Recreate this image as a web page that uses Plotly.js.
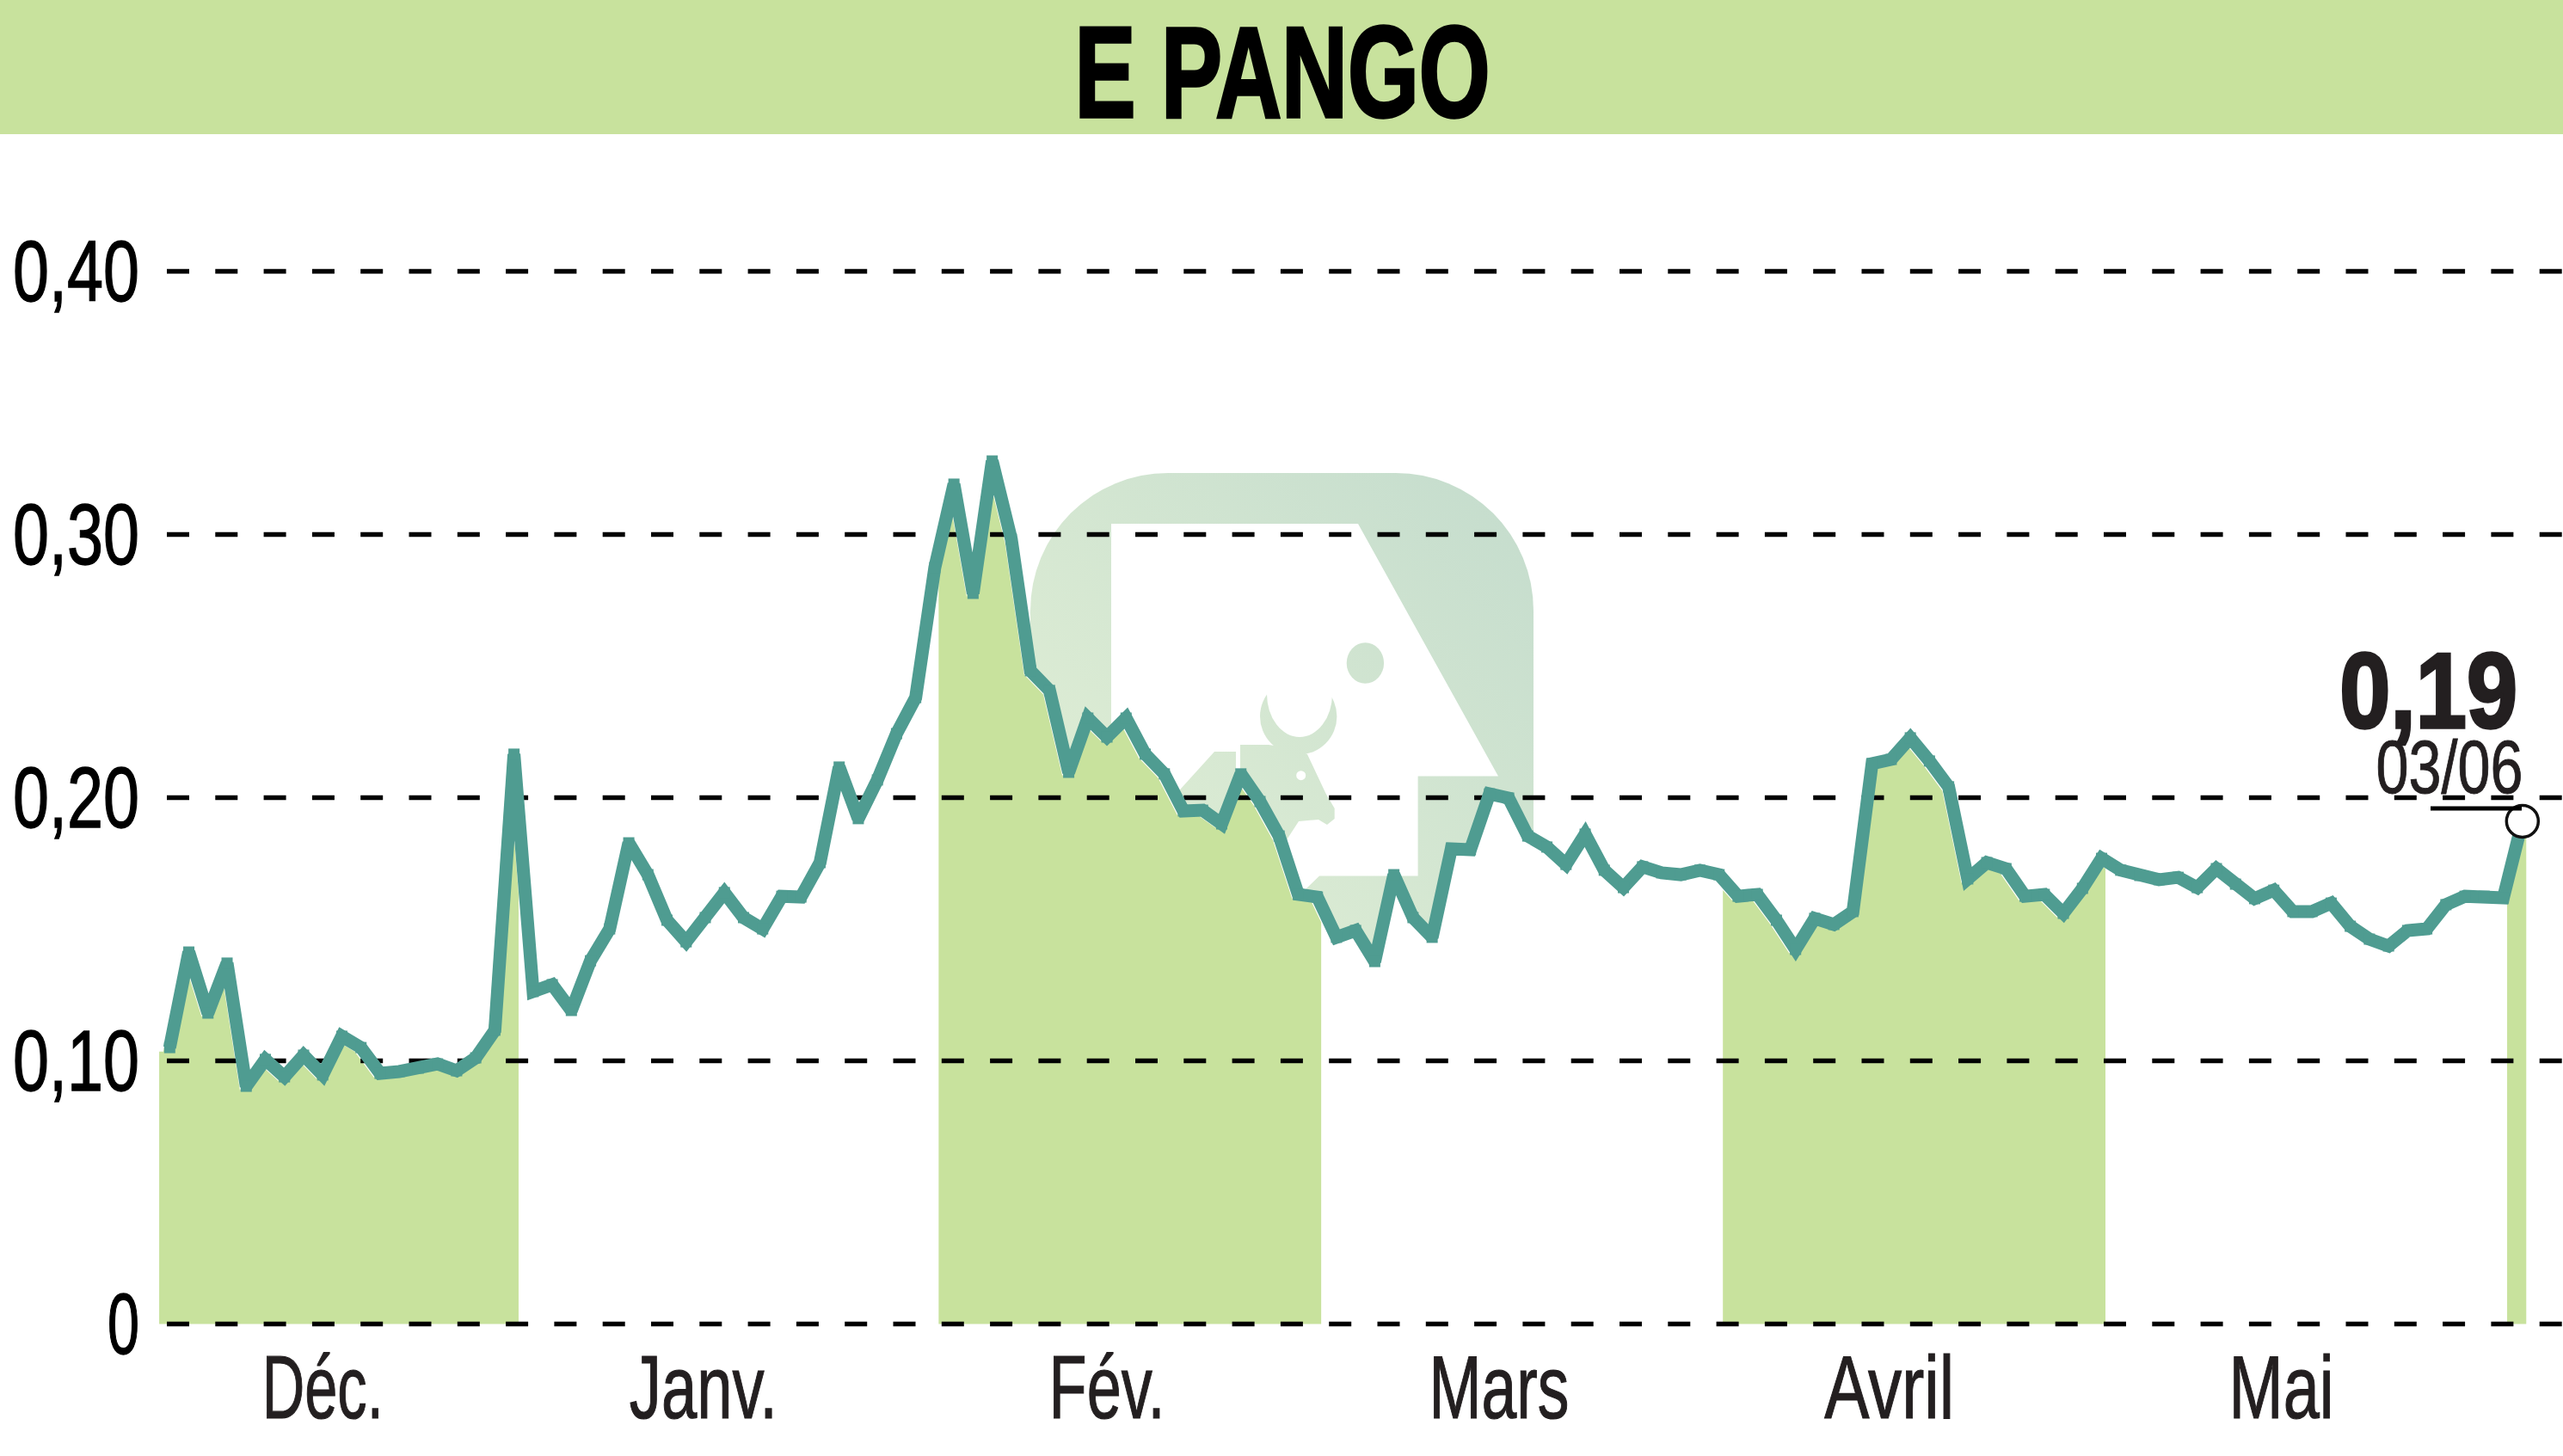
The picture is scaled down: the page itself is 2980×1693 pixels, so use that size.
<!DOCTYPE html>
<html><head><meta charset="utf-8">
<script src="https://cdn.plot.ly/plotly-3.0.1.min.js"></script>
<style>html,body{margin:0;padding:0;background:#fff;overflow:hidden}</style>
</head><body><div id="chart" style="width:2980px;height:1693px"></div>
<script>
const chartTitle = "E PANGO";
const monthLabels = ["Déc.","Janv.","Fév.","Mars","Avril","Mai"];
const monthCentres = [8,27.9,49,69.5,89.9,110.4];
const yTickValues = [0,0.1,0.2,0.3,0.4];
const yTickLabels = ["0","0,10","0,20","0,30","0,40"];
const lastValueLabel = "0,19";
const lastDateLabel = "03/06";
const prices = [
.1050,.1413,.1181,.1371,.0903,.1005,.0939,.1021,.0946,.1093,
.1050,.0952,.0959,.0972,.0988,.0962,.1011,.1116,.2165,.1263,
.1289,.1191,.1380,.1501,.1828,.1707,.1534,.1452,.1544,.1639,
.1544,.1501,.1625,.1622,.1753,.2116,.1920,.2067,.2243,.2380,
.2874,.3191,.2776,.3279,.2982,.2482,.2407,.2096,.2302,.2230,
.2302,.2165,.2090,.1949,.1952,.1900,.2090,.1985,.1854,.1632,
.1622,.1469,.1495,.1377,.1707,.1544,.1469,.1805,.1802,.2014,
.1998,.1854,.1812,.1746,.1861,.1724,.1658,.1737,.1714,.1707,
.1724,.1707,.1625,.1632,.1534,.1423,.1541,.1518,.1567,.2129,
.2145,.2227,.2139,.2041,.1691,.1753,.1730,.1625,.1632,.1560,
.1655,.1769,.1724,.1704,.1688,.1697,.1658,.1730,.1671,.1616,
.1648,.1567,.1567,.1599,.1511,.1462,.1436,.1495,.1501,.1593,
.1625,.1625,.1619,.1910];
const monthBands = [[-0.55,18.24],[40.2,60.2],[81.2,101.2],[122.2,123.2]];

const W=2980,H=1693, L=180,R=2980,T=156,B=1545;
const X0=197.3, STEP=22.24, Y0=1539.4, UNIT=3060;
const pxToX = p => (p-X0)/STEP;
const pxToY = p => (Y0-p)/UNIT;
const days = prices.map((_,i)=>i);
const GREEN="#c8e29d", TEAL="#4f9c91", INK="#231f20";
const FONT="Liberation Sans, Arial, sans-serif";

function band(a,b){
  const shift=-0.33, drop=0.0015;
  const sx=days.map(d=>d+shift), sy=prices.map(v=>v-drop);
  const at=t=>{ if(t<=sx[0]) return sy[0]; if(t>=sx[sx.length-1]) return sy[sy.length-1];
    const i=Math.floor(t-sx[0]); const f=t-sx[i]; return sy[i]+(sy[i+1]-sy[i])*f; };
  const xs=[a],ys=[at(a)];
  sx.forEach((x,i)=>{ if(x>a&&x<b){xs.push(x);ys.push(sy[i]);} });
  xs.push(b);ys.push(at(b));
  return {x:xs,y:ys,type:"scatter",mode:"none",fill:"tozeroy",fillcolor:GREEN,hoverinfo:"skip"};
}

const gx=[],gy=[];
yTickValues.forEach(v=>{gx.push(pxToX(194),pxToX(2980),null);gy.push(v,v,null);});

const traces=[
  {x:days,y:prices,type:"scatter",mode:"none",fill:"tozeroy",fillcolor:"#ffffff",hoverinfo:"skip"},
  ...monthBands.map(b=>band(b[0],b[1])),
  {x:gx,y:gy,type:"scatter",mode:"lines",line:{color:"#000",width:5.5,dash:"26px,30.3px"},hoverinfo:"skip"},
  {x:days,y:prices,type:"scatter",mode:"lines+markers",line:{color:TEAL,width:15,shape:"linear"},
   marker:{symbol:"square",size:13,color:TEAL},hoverinfo:"skip"},
  {x:[days[days.length-1]],y:[prices[prices.length-1]],type:"scatter",mode:"markers",
   marker:{symbol:"circle",size:37,color:"#fff",line:{color:"#111",width:3.5}},hoverinfo:"skip"}
];

const logoSvg=`<svg xmlns="http://www.w3.org/2000/svg" width="590" height="600" viewBox="1195 548 590 600">
<defs><linearGradient id="g" gradientUnits="userSpaceOnUse" x1="1198" y1="1130" x2="1783" y2="550">
<stop offset="0" stop-color="#e4f1d6"/><stop offset="1" stop-color="#c4dccd"/></linearGradient></defs>
<rect x="1198" y="550" width="585" height="595" rx="160" ry="160" fill="url(#g)"/>
<polygon fill="#fff" points="1292,609 1579,609 1742,902.6 1648.6,902.6 1648.6,1018.5 1534,1018.5 1450,1100 1292,1100"/>
<g fill="url(#g)">
<polygon points="1292,1007 1373,917 1412,874 1437,874 1437,895 1442,895 1442,866 1475,866 1500,870 1520,877 1541.7,923 1551.7,940 1551.7,952 1543,959 1533,953 1510,955 1497,975 1470,1060 1292,1100"/>
<circle cx="1509.7" cy="833" r="44.7"/>
<ellipse cx="1587.4" cy="771" rx="21.7" ry="23.8"/>
</g>
<g fill="#fff">
<ellipse cx="1511" cy="807" rx="38" ry="50"/>
<circle cx="1512.7" cy="901.7" r="5.5"/>
</g>
</svg>`;

const layout={
  width:W,height:H,margin:{l:L,r:W-R,t:T,b:H-B,pad:0},
  paper_bgcolor:"#fff",plot_bgcolor:"rgba(0,0,0,0)",showlegend:false,hovermode:false,
  title:{text:chartTitle,x:1491/W,xanchor:"center",y:1-83/H,yanchor:"middle",
         font:{family:FONT,size:150,color:"#000",weight:700}},
  xaxis:{range:[pxToX(L),pxToX(R)],tickvals:monthCentres,ticktext:monthLabels,showgrid:false,zeroline:false,showline:false,
         ticks:"",ticklabelstandoff:0,tickfont:{family:FONT,size:103,color:INK}},
  yaxis:{range:[pxToY(B),pxToY(T)],tickvals:yTickValues,ticktext:yTickLabels,showgrid:false,zeroline:false,showline:false,
         ticks:"",ticklabelstandoff:17,tickfont:{family:FONT,size:100,color:"#000"}},
  shapes:[
    {type:"rect",xref:"paper",yref:"paper",x0:-L/(R-L),x1:1,y0:1,y1:1+T/(B-T),fillcolor:GREEN,line:{width:0},layer:"below"},
    {type:"line",xref:"x",yref:"y",x0:pxToX(2826),x1:pxToX(2932),y0:pxToY(940),y1:pxToY(940),line:{color:"#000",width:5},layer:"above"}
  ],
  images:[{source:"data:image/svg+xml;base64,"+btoa(logoSvg),xref:"paper",yref:"paper",
    x:(1195-L)/(R-L),y:1-(548-T)/(B-T),sizex:590/(R-L),sizey:600/(B-T),xanchor:"left",yanchor:"top",sizing:"stretch",layer:"below"}],
  annotations:[
    {xref:"x",yref:"y",x:pxToX(2823.5),y:pxToY(803),xanchor:"center",yanchor:"middle",showarrow:false,text:lastValueLabel,
     font:{family:FONT,size:124,color:INK,weight:700}},
    {xref:"x",yref:"y",x:pxToX(2847.5),y:pxToY(891),xanchor:"center",yanchor:"middle",showarrow:false,text:lastDateLabel,
     font:{family:FONT,size:88,color:INK}}
  ]
};
// The reference lettering is condensed; no condensed family is installed, so widths and weight are fitted on the live text.
const fittedText={"E PANGO":[483,3.5],"Déc.":[141,1.2],"Janv.":[172,1.2],"Fév.":[135,1.2],"Mars":[163,1.2],"Avril":[151,1.2],"Mai":[122,1.2],
  "0":[37,1.4],"0,10":[147,1.4],"0,20":[147,1.4],"0,30":[147,1.4],"0,40":[147,1.4],"0,19":[207,3.5],"03/06":[171,1]};
Plotly.newPlot("chart",traces,layout,{displayModeBar:false,staticPlot:true}).then(gd=>{
  gd.querySelectorAll("svg text").forEach(t=>{
    const f=fittedText[t.textContent.trim()];
    if(f){
      t.setAttribute("textLength",f[0]);t.setAttribute("lengthAdjust","spacingAndGlyphs");
      t.style.stroke=getComputedStyle(t).fill;t.style.strokeWidth=f[1]+"px";
    }
  });
});
</script></body></html>
